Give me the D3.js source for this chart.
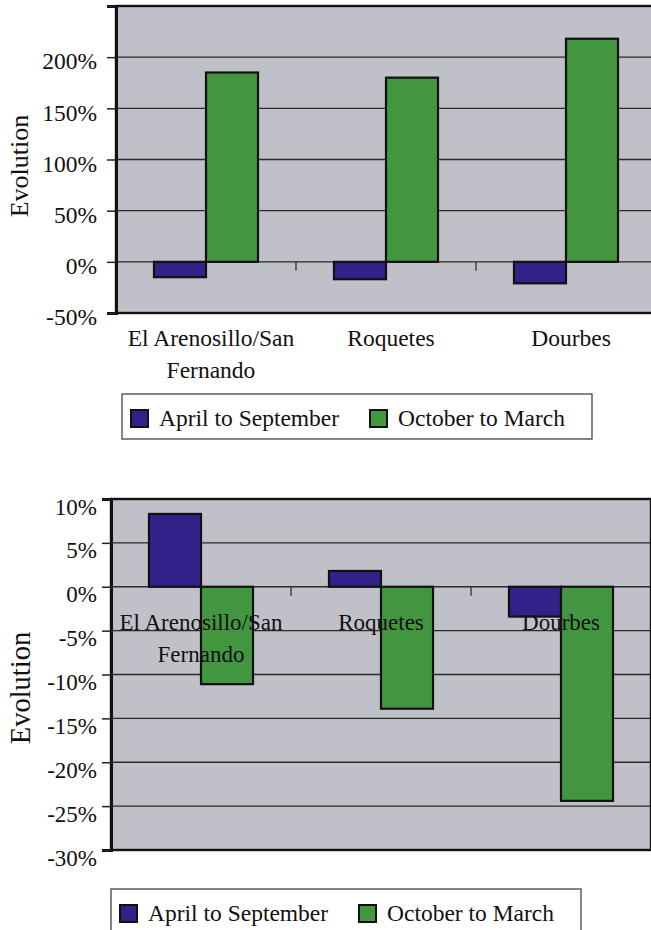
<!DOCTYPE html>
<html>
<head>
<meta charset="utf-8">
<script src="https://cdn.jsdelivr.net/npm/d3@7"></script>
<style>
  html, body { margin: 0; padding: 0; background: #ffffff; }
  svg { display: block; }
  svg text { font-family: "Liberation Serif", "Times New Roman", Times, serif; fill: #111; }
</style>
</head>
<body>
<svg id="fig" width="651" height="930" font-family="Liberation Serif, Times New Roman, serif"></svg>
<script>
// Stations (category labels split over lines as printed)
const categories = ["El Arenosillo/San Fernando", "Roquetes", "Dourbes"];
const categoryLines = [["El Arenosillo/San", "Fernando"], ["Roquetes"], ["Dourbes"]];
const series = ["April to September", "October to March"];

// Upper panel: evolution (%) per season
const upperSummer = [-15, -17, -21];
const upperWinter = [185, 180, 218];
const upperTicks = [-50, 0, 50, 100, 150, 200, 250];
const upperTickLabels = ["-50%", "0%", "50%", "100%", "150%", "200%", ""];

// Lower panel: evolution (%) per season
const lowerSummer = [8.3, 1.8, -3.4];
const lowerWinter = [-11.1, -13.9, -24.4];
const lowerTicks = [-30, -25, -20, -15, -10, -5, 0, 5, 10];
const lowerTickLabels = ["-30%", "-25%", "-20%", "-15%", "-10%", "-5%", "0%", "5%", "10%"];

const colors = { "April to September": "#33218A", "October to March": "#41963F" };
const plotBg = "#C0C0C8";

const svg = d3.select("#fig");

function drawPanel(cfg) {
  const g = svg.append("g");
  const x0 = d3.scaleBand().domain(categories).range([cfg.left, cfg.right]).paddingInner(0).paddingOuter(0);
  const bw = x0.bandwidth();
  const x1 = d3.scaleBand().domain(series).range([bw * 0.211, bw * 0.789]).padding(0);
  const y = d3.scaleLinear().domain(cfg.domain).range([cfg.bottom, cfg.top]);

  // plot background
  g.append("rect")
    .attr("x", cfg.left).attr("y", cfg.top)
    .attr("width", cfg.right - cfg.left).attr("height", cfg.bottom - cfg.top)
    .attr("fill", plotBg);

  // horizontal gridlines
  g.append("g").selectAll("line").data(cfg.ticks).join("line")
    .attr("x1", cfg.left).attr("x2", cfg.right)
    .attr("y1", d => y(d)).attr("y2", d => y(d))
    .attr("stroke", "#2a2a2a").attr("stroke-width", 1.4);

  // bars
  const rows = categories.map((c, i) => ({ cat: c, values: [
    { s: series[0], v: cfg.summer[i] },
    { s: series[1], v: cfg.winter[i] }
  ]}));
  g.append("g").selectAll("g").data(rows).join("g")
    .attr("transform", d => `translate(${x0(d.cat)},0)`)
    .selectAll("rect").data(d => d.values).join("rect")
    .attr("x", d => x1(d.s))
    .attr("width", x1.bandwidth())
    .attr("y", d => y(Math.max(0, d.v)))
    .attr("height", d => Math.abs(y(d.v) - y(0)))
    .attr("fill", d => colors[d.s])
    .attr("stroke", "#111").attr("stroke-width", 2.2);

  // category tick marks on the zero line (between groups)
  g.append("g").selectAll("line").data(categories.slice(1)).join("line")
    .attr("x1", d => x0(d)).attr("x2", d => x0(d))
    .attr("y1", y(0)).attr("y2", y(0) + 9)
    .attr("stroke", "#333").attr("stroke-width", 1.3);

  // plot frame
  g.append("rect")
    .attr("x", cfg.left).attr("y", cfg.top)
    .attr("width", cfg.right - cfg.left).attr("height", cfg.bottom - cfg.top)
    .attr("fill", "none").attr("stroke", "#111").attr("stroke-width", 2.4);

  // y axis
  const axis = d3.axisLeft(y)
    .tickValues(cfg.ticks)
    .tickSize(9)
    .tickPadding(cfg.tickPadding)
    .tickFormat((d, i) => cfg.tickLabels[i]);
  const ax = g.append("g").attr("transform", `translate(${cfg.left},0)`).call(axis);
  ax.attr("font-family", null).attr("font-size", null);
  ax.select(".domain").attr("stroke", "#111").attr("stroke-width", 3);
  ax.selectAll(".tick line").attr("stroke", "#222").attr("stroke-width", 1.5);
  ax.selectAll(".tick text")
    .attr("font-size", cfg.fontSize)
    .attr("fill", "#111")
    .attr("dy", null)
    .attr("y", cfg.tickBaseline);

  // category labels
  const cl = g.append("g").selectAll("text").data(categories).join("text")
    .attr("text-anchor", "middle")
    .attr("font-size", cfg.fontSize)
    .attr("x", d => x0(d) + bw / 2 + cfg.labelDx)
    .attr("y", cfg.labelY);
  cl.selectAll("tspan").data((d, i) => categoryLines[i]).join("tspan")
    .attr("x", function() { return this.parentNode.getAttribute("x"); })
    .attr("dy", (d, j) => j === 0 ? 0 : cfg.lineHeight)
    .text(d => d);

  // y axis title
  g.append("text")
    .attr("transform", `translate(${cfg.titleX},${cfg.titleY}) rotate(-90)`)
    .attr("text-anchor", "middle")
    .attr("font-size", cfg.titleSize)
    .text("Evolution");

  // legend
  const lg = g.append("g").attr("transform", `translate(${cfg.legendX},${cfg.legendY})`);
  lg.append("rect").attr("x", 0).attr("y", 0).attr("width", 470).attr("height", 45)
    .attr("fill", "#fff").attr("stroke", "#444").attr("stroke-width", 1.3);
  const items = lg.selectAll("g.item").data(series).join("g")
    .attr("class", "item")
    .attr("transform", (d, i) => `translate(${i === 0 ? 9 : 248},0)`);
  items.append("rect").attr("x", 0).attr("y", 16).attr("width", 17).attr("height", 17)
    .attr("fill", d => colors[d]).attr("stroke", "#111").attr("stroke-width", 2);
  items.append("text").attr("x", 28).attr("y", 32).attr("font-size", 23.5).text(d => d);
}

drawPanel({
  left: 116, right: 656, top: 6, bottom: 313,
  domain: [-50, 250], ticks: upperTicks, tickLabels: upperTickLabels,
  summer: upperSummer, winter: upperWinter,
  fontSize: 23.5, tickBaseline: 11.7, tickPadding: 10,
  labelY: 346, lineHeight: 32, labelDx: 5,
  titleX: 28, titleY: 166, titleSize: 26,
  legendX: 122, legendY: 394
});

drawPanel({
  left: 111, right: 651, top: 499, bottom: 850,
  domain: [-30, 10], ticks: lowerTicks, tickLabels: lowerTickLabels,
  summer: lowerSummer, winter: lowerWinter,
  fontSize: 23, tickBaseline: 15, tickPadding: 5,
  labelY: 630, lineHeight: 31.7, labelDx: 0,
  titleX: 30, titleY: 688, titleSize: 28.5,
  legendX: 111, legendY: 889
});
</script>
</body>
</html>
